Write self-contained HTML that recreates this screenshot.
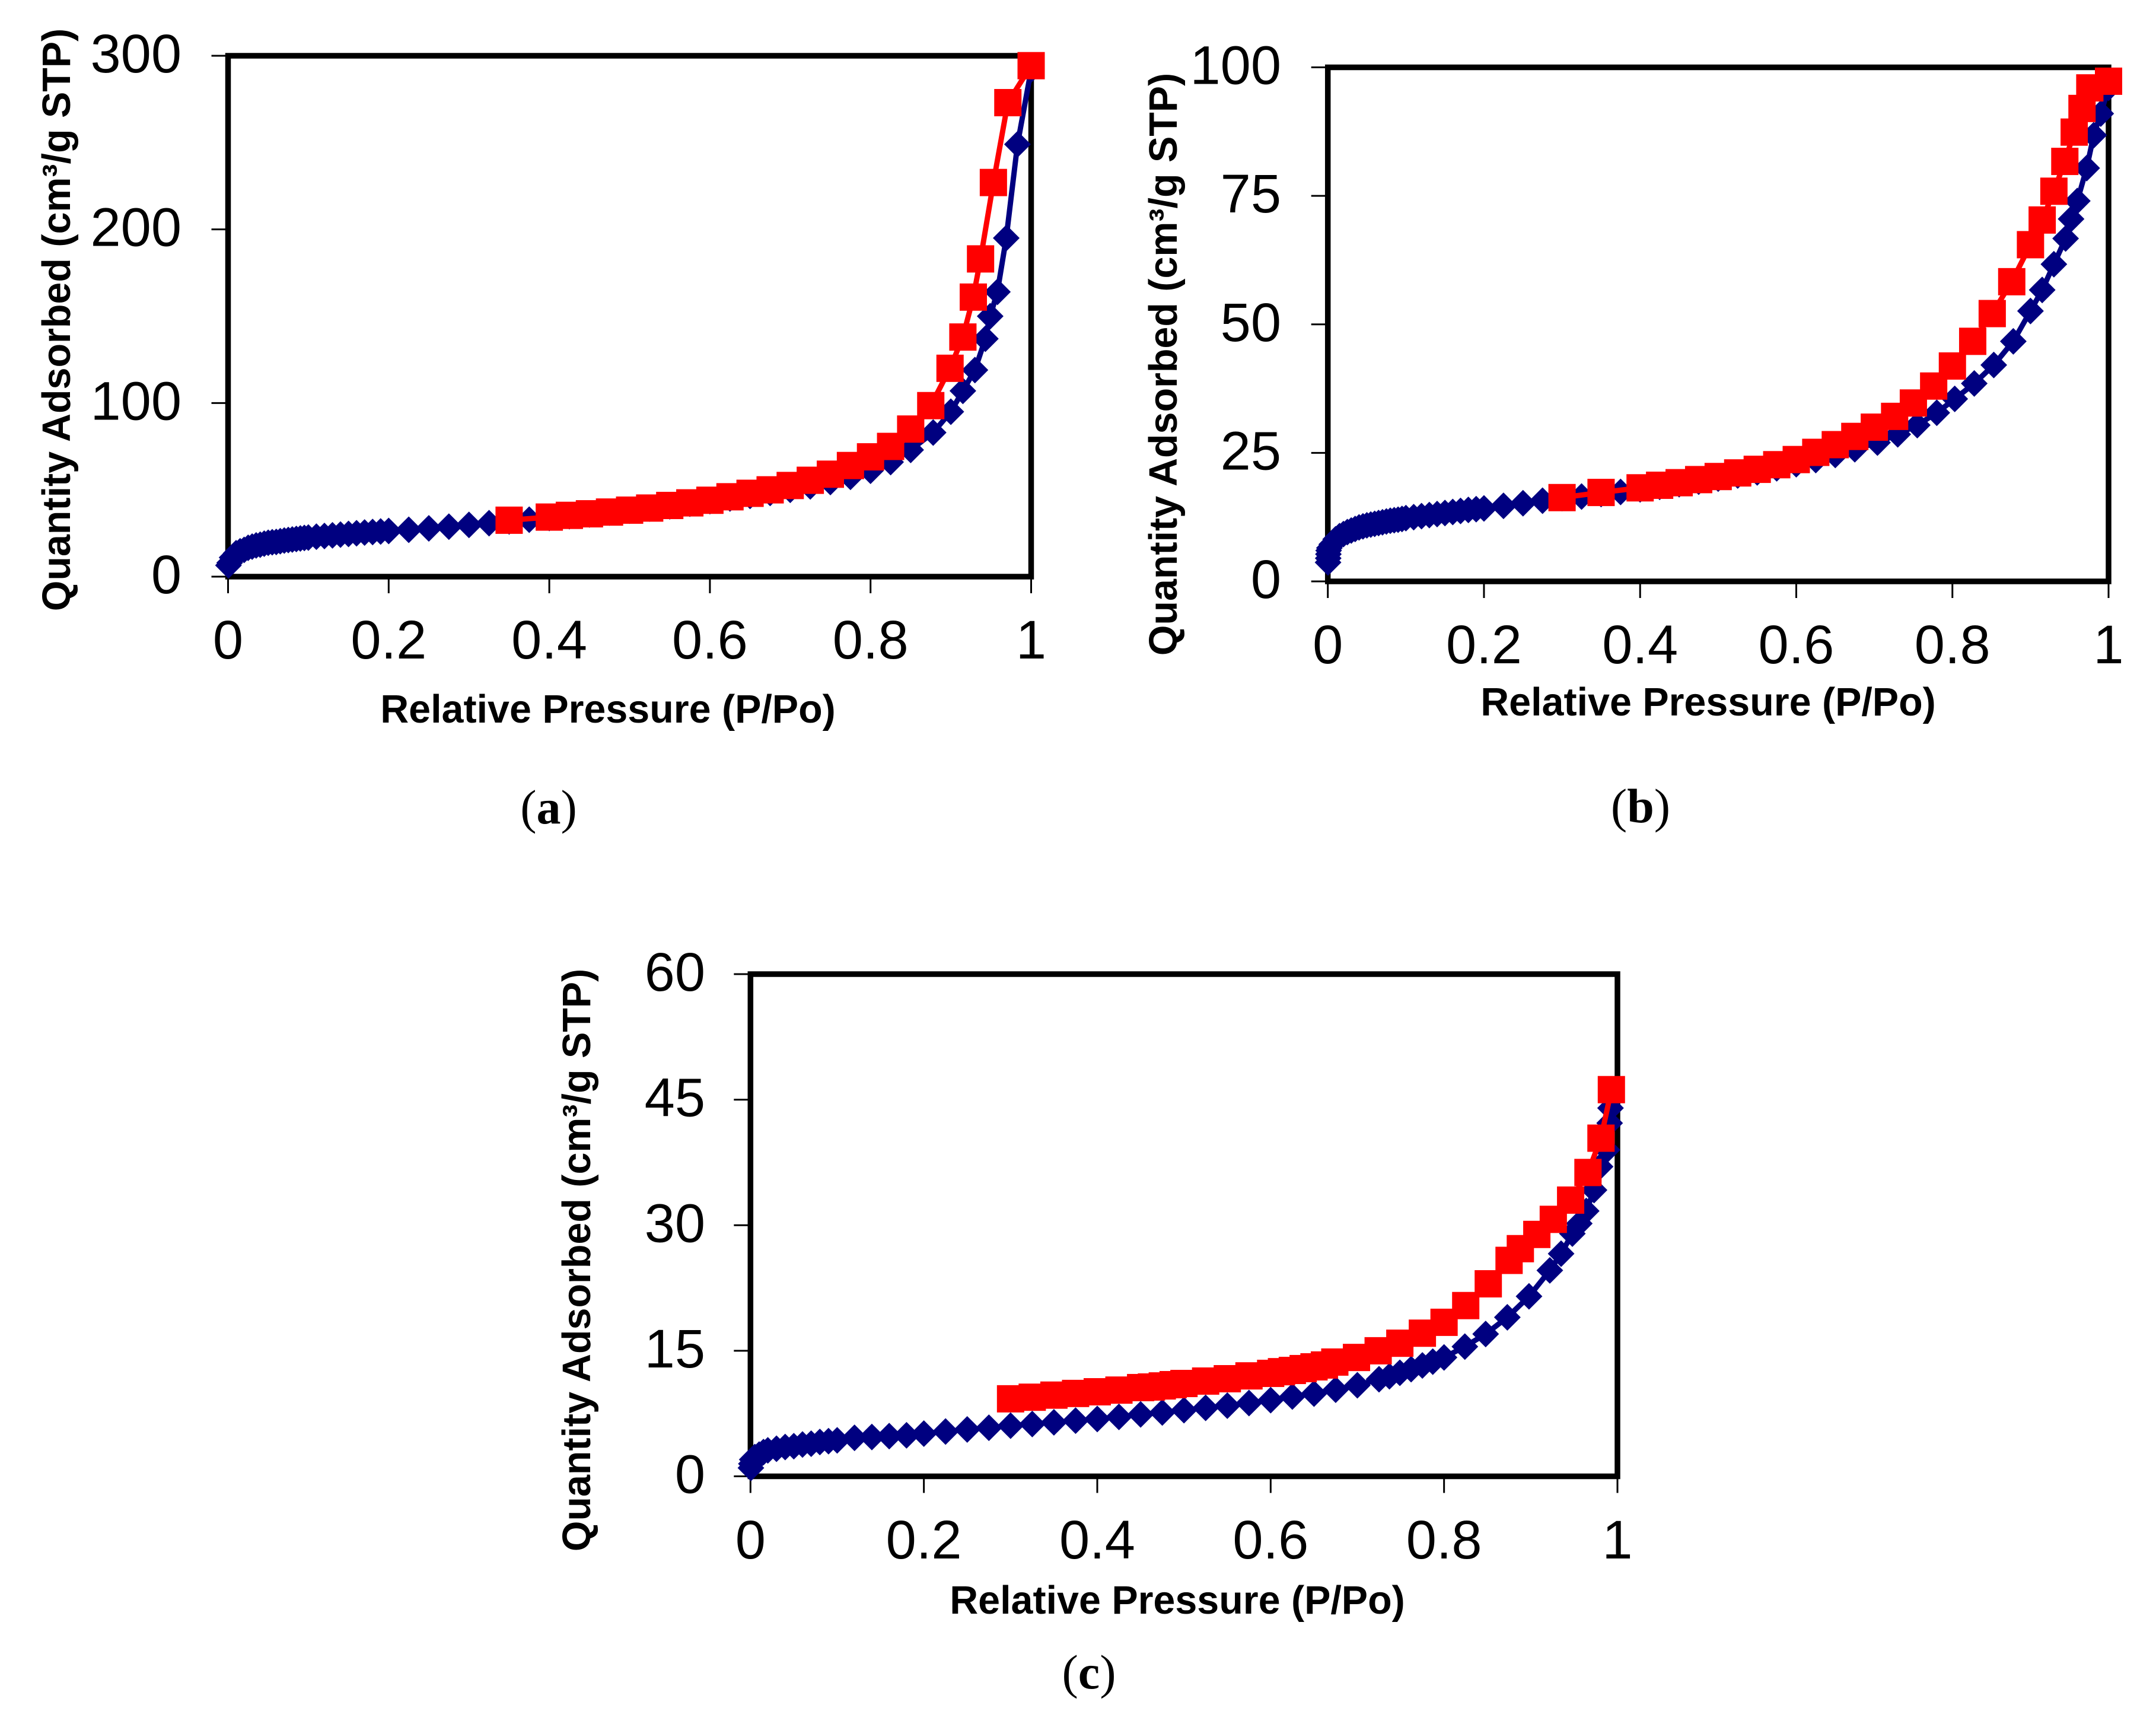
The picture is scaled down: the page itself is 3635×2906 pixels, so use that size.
<!DOCTYPE html>
<html lang="en">
<head>
<meta charset="utf-8">
<title>Nitrogen adsorption isotherms</title>
<style>
html,body{margin:0;padding:0;background:#fff;}
svg{display:block;}
text{fill:#000;font-family:"Liberation Sans",Arial,sans-serif;}
.axis-title{font-weight:700;font-size:66.4px;}
.tick-label{font-size:92px;}
.caption{font-family:"Liberation Serif","Times New Roman",serif;font-size:82px;}
.caption tspan{font-weight:700;}
</style>
</head>
<body>
<svg id="figure" xmlns="http://www.w3.org/2000/svg" width="3635" height="2906" viewBox="0 0 3635 2906">
  <rect x="0" y="0" width="3635" height="2906" fill="#fff"/>
  <g id="panel-a"></g>
  <g id="panel-b"></g>
  <g id="panel-c"></g>

  <text class="axis-title" x="1025" y="1218" text-anchor="middle">Relative Pressure (P/Po)</text>
  <text class="axis-title" transform="translate(118 539) rotate(-90)" text-anchor="middle">Quantity Adsorbed (cm³/g STP)</text>
  <text class="caption" x="925" y="1388" text-anchor="middle">(<tspan>a</tspan>)</text>

  <text class="axis-title" x="2880" y="1206" text-anchor="middle">Relative Pressure (P/Po)</text>
  <text class="axis-title" transform="translate(1984 614) rotate(-90)" text-anchor="middle">Quantity Adsorbed (cm³/g STP)</text>
  <text class="caption" x="2766" y="1386" text-anchor="middle">(<tspan>b</tspan>)</text>

  <text class="axis-title" x="1985" y="2720" text-anchor="middle">Relative Pressure (P/Po)</text>
  <text class="axis-title" transform="translate(995 2124) rotate(-90)" text-anchor="middle">Quantity Adsorbed (cm³/g STP)</text>
  <text class="caption" x="1836" y="2846" text-anchor="middle">(<tspan>c</tspan>)</text>
</svg>
<script>
// ---------- shared x-axis ticks ----------
const xTickValues = [0, 0.2, 0.4, 0.6, 0.8, 1];
const xTickLabels = ["0", "0.2", "0.4", "0.6", "0.8", "1"];

// ---------- chart (a) ----------
const aYTickValues = [0, 100, 200, 300];
const aYTickLabels = ["0", "100", "200", "300"];
const aAdsorptionP = [0.0005,0.002,0.005,0.01,0.015,0.02,0.025,0.03,0.035,0.04,0.045,0.05,0.055,0.06,0.065,0.07,0.075,0.08,0.085,0.09,0.095,0.1,0.11,0.12,0.13,0.14,0.15,0.16,0.17,0.18,0.19,0.2,0.225,0.25,0.275,0.3,0.325,0.35,0.375,0.4,0.425,0.45,0.475,0.5,0.525,0.55,0.575,0.6,0.625,0.65,0.675,0.7,0.725,0.75,0.775,0.8,0.825,0.85,0.878,0.9,0.915,0.93,0.943,0.949,0.958,0.969,0.983,1];
const aAdsorptionQ = [6.5,8,11,13.5,14.6,15.4,16.6,17.3,18,18.4,19,19.5,19.8,20,20.4,20.8,21.1,21.4,21.7,22,22.3,22.5,23,23.4,23.8,24.2,24.6,25,25.4,25.7,26,26.3,27,27.8,28.8,29.8,30.8,31.8,32.8,33.8,34.8,35.8,36.9,38,39.2,40.5,42,43.5,45,46.5,48.2,50,52,54.5,57.5,61,66,73,83,95,107,119,137,150,164,195,249,292];
const aDesorptionP = [1,0.971,0.953,0.937,0.928,0.915,0.899,0.875,0.85,0.825,0.8,0.775,0.75,0.725,0.7,0.675,0.65,0.625,0.6,0.575,0.55,0.525,0.5,0.475,0.45,0.425,0.4,0.35];
const aDesorptionQ = [294.3,273,227,183,161,138,120,98.5,85,75,69,64,59,55.5,52.5,50,48,46,44,42.5,41,39.5,38.3,37.2,36.2,35.3,34.3,32.5];

// ---------- chart (b) ----------
const bYTickValues = [0, 25, 50, 75, 100];
const bYTickLabels = ["0", "25", "50", "75", "100"];
const bAdsorptionP = [0.0003,0.0005,0.0007,0.001,0.002,0.005,0.01,0.015,0.02,0.025,0.03,0.035,0.04,0.045,0.05,0.055,0.06,0.065,0.07,0.075,0.08,0.085,0.09,0.095,0.1,0.11,0.12,0.13,0.14,0.15,0.16,0.17,0.18,0.19,0.2,0.225,0.25,0.275,0.3,0.325,0.35,0.375,0.4,0.425,0.45,0.475,0.5,0.525,0.55,0.575,0.6,0.625,0.65,0.675,0.704,0.73,0.755,0.78,0.803,0.828,0.853,0.878,0.9,0.915,0.93,0.945,0.952,0.96,0.972,0.981,0.99,1];
const bAdsorptionQ = [3.7,4.5,5.3,6,6.5,7.2,8.2,8.8,9.2,9.6,9.9,10.2,10.5,10.7,10.9,11.05,11.2,11.35,11.5,11.65,11.8,11.9,12,12.15,12.3,12.5,12.7,12.9,13.1,13.3,13.5,13.7,13.9,14.05,14.2,14.7,15.2,15.7,16.2,16.5,17,17.4,17.9,18.4,18.9,19.4,20,20.6,21.2,22,22.8,23.6,24.6,25.7,27,28.6,30.4,32.8,35.5,38.5,42.1,46.7,52.6,56.7,61.7,66.7,70.5,74,80.4,86.8,91,96];
const bDesorptionP = [1,0.976,0.966,0.956,0.944,0.93,0.915,0.9,0.876,0.851,0.826,0.8,0.776,0.75,0.726,0.7,0.675,0.65,0.625,0.6,0.575,0.55,0.525,0.5,0.475,0.45,0.425,0.4,0.35,0.3];
const bDesorptionQ = [97.3,96,92,87.4,81.7,75.9,70.3,65.5,58.3,52.1,46.7,41.9,38,34.7,32.1,30,28.2,26.6,25.1,23.7,22.7,21.8,21.1,20.4,19.8,19.2,18.7,18.2,17.3,16.3];

// ---------- chart (c) ----------
const cYTickValues = [0, 15, 30, 45, 60];
const cYTickLabels = ["0", "15", "30", "45", "60"];
const cAdsorptionP = [0.0005,0.001,0.002,0.005,0.01,0.015,0.02,0.03,0.04,0.05,0.06,0.07,0.08,0.09,0.1,0.12,0.14,0.16,0.18,0.2,0.225,0.25,0.275,0.3,0.325,0.35,0.375,0.4,0.425,0.45,0.475,0.5,0.525,0.55,0.575,0.6,0.625,0.65,0.675,0.7,0.725,0.737,0.749,0.762,0.775,0.787,0.8,0.824,0.848,0.873,0.898,0.922,0.935,0.948,0.956,0.964,0.973,0.98,0.988,0.991,0.992];
const cAdsorptionQ = [1,1.5,2,2.3,2.6,2.9,3.1,3.3,3.5,3.6,3.8,3.9,4.1,4.2,4.3,4.6,4.7,4.8,4.9,5.1,5.35,5.6,5.8,6.05,6.25,6.45,6.65,6.85,7.1,7.4,7.63,7.9,8.18,8.44,8.75,9.1,9.53,9.88,10.35,10.88,11.6,11.95,12.37,12.8,13.25,13.7,14.2,15.5,17,19,21.5,24.6,26.6,29,30.2,31.7,34.2,37,39,42.2,44];
const cDesorptionP = [0.993,0.981,0.966,0.946,0.926,0.907,0.888,0.875,0.851,0.825,0.8,0.775,0.749,0.724,0.699,0.674,0.662,0.65,0.6375,0.625,0.6125,0.6,0.575,0.55,0.525,0.5,0.4875,0.475,0.4625,0.45,0.425,0.4,0.375,0.35,0.325,0.3];
const cDesorptionQ = [46.2,40.4,36.3,33,30.7,28.9,27.2,25.8,23,20.4,18.4,17.1,15.9,15,14.2,13.65,13.3,13.08,12.87,12.65,12.5,12.3,12,11.66,11.38,11.09,10.95,10.8,10.67,10.6,10.3,10.1,9.9,9.7,9.45,9.26];

// ---------- drawing ----------
const NS = "http://www.w3.org/2000/svg";
const BLUE = "#000080";
const RED = "#ff0000";

function make(tag, attrs, parent) {
  const el = document.createElementNS(NS, tag);
  for (const k in attrs) el.setAttribute(k, attrs[k]);
  parent.appendChild(el);
  return el;
}

function drawChart(opts) {
  const root = document.getElementById(opts.id);
  const xScale = function (p) { return opts.left + (opts.right - opts.left) * p; };
  const yScale = function (q) { return opts.bottom - (opts.bottom - opts.top) * (q / opts.yMax); };

  // frame
  const frame = make("rect", {x: opts.left, y: opts.top, width: opts.right - opts.left, height: opts.bottom - opts.top, fill: "#fff", stroke: "#000", "stroke-width": 9.5}, root);
  
  

  // x ticks
  xTickValues.forEach(function (v, i) {
    const x = xScale(v);
    const tick = make("line", {x1: x, x2: x, y1: opts.bottom, y2: opts.bottom + 28, stroke: "#000", "stroke-width": 3}, root);
    
    
    const label = make("text", {class: "tick-label", x: x, y: opts.xLabelY, "text-anchor": "middle"}, root);
    label.textContent = xTickLabels[i];
    
    
  });

  // y ticks
  opts.yTicks.forEach(function (v, i) {
    const y = yScale(v);
    const tick = make("line", {x1: opts.left - 28, x2: opts.left, y1: y, y2: y, stroke: "#000", "stroke-width": 3}, root);
    
    
    const label = make("text", {class: "tick-label", x: opts.yLabelX, y: y + 28, "text-anchor": "end"}, root);
    label.textContent = opts.yLabels[i];
    
    
  });

  // adsorption series (navy diamonds)
  const adsPts = opts.adsP.map(function (p, i) { return xScale(p).toFixed(1) + "," + yScale(opts.adsQ[i]).toFixed(1); });
  const adsGroup = make("g", {}, root);
  
  
  const adsLine = make("polyline", {points: adsPts.join(" "), fill: "none", stroke: BLUE, "stroke-width": 9, "stroke-linejoin": "round"}, adsGroup);
  
  
  opts.adsP.forEach(function (p, i) {
    const cx = xScale(p), cy = yScale(opts.adsQ[i]), r = 22.5;
    const d = make("polygon", {points: cx + "," + (cy - r) + " " + (cx + r) + "," + cy + " " + cx + "," + (cy + r) + " " + (cx - r) + "," + cy, fill: BLUE}, adsGroup);
    
    
  });

  // desorption series (red squares)
  const desPts = opts.desP.map(function (p, i) { return xScale(p).toFixed(1) + "," + yScale(opts.desQ[i]).toFixed(1); });
  const desGroup = make("g", {}, root);
  
  
  const desLine = make("polyline", {points: desPts.join(" "), fill: "none", stroke: RED, "stroke-width": 9, "stroke-linejoin": "round"}, desGroup);
  
  
  opts.desP.forEach(function (p, i) {
    const cx = xScale(p), cy = yScale(opts.desQ[i]), s = 46;
    const m = make("rect", {x: cx - s / 2, y: cy - s / 2, width: s, height: s, fill: RED}, desGroup);
    
    
  });
}

drawChart({id: "panel-a", left: 384.5, right: 1738.5, top: 94, bottom: 972, yMax: 300, xLabelY: 1110, yLabelX: 306,
  yTicks: aYTickValues, yLabels: aYTickLabels, adsP: aAdsorptionP, adsQ: aAdsorptionQ, desP: aDesorptionP, desQ: aDesorptionQ});
drawChart({id: "panel-b", left: 2238.7, right: 3555, top: 113.5, bottom: 980, yMax: 100, xLabelY: 1118, yLabelX: 2160,
  yTicks: bYTickValues, yLabels: bYTickLabels, adsP: bAdsorptionP, adsQ: bAdsorptionQ, desP: bDesorptionP, desQ: bDesorptionQ});
drawChart({id: "panel-c", left: 1265.3, right: 2727, top: 1642, bottom: 2488.5, yMax: 60, xLabelY: 2627, yLabelX: 1189,
  yTicks: cYTickValues, yLabels: cYTickLabels, adsP: cAdsorptionP, adsQ: cAdsorptionQ, desP: cDesorptionP, desQ: cDesorptionQ});
</script>
</body>
</html>
